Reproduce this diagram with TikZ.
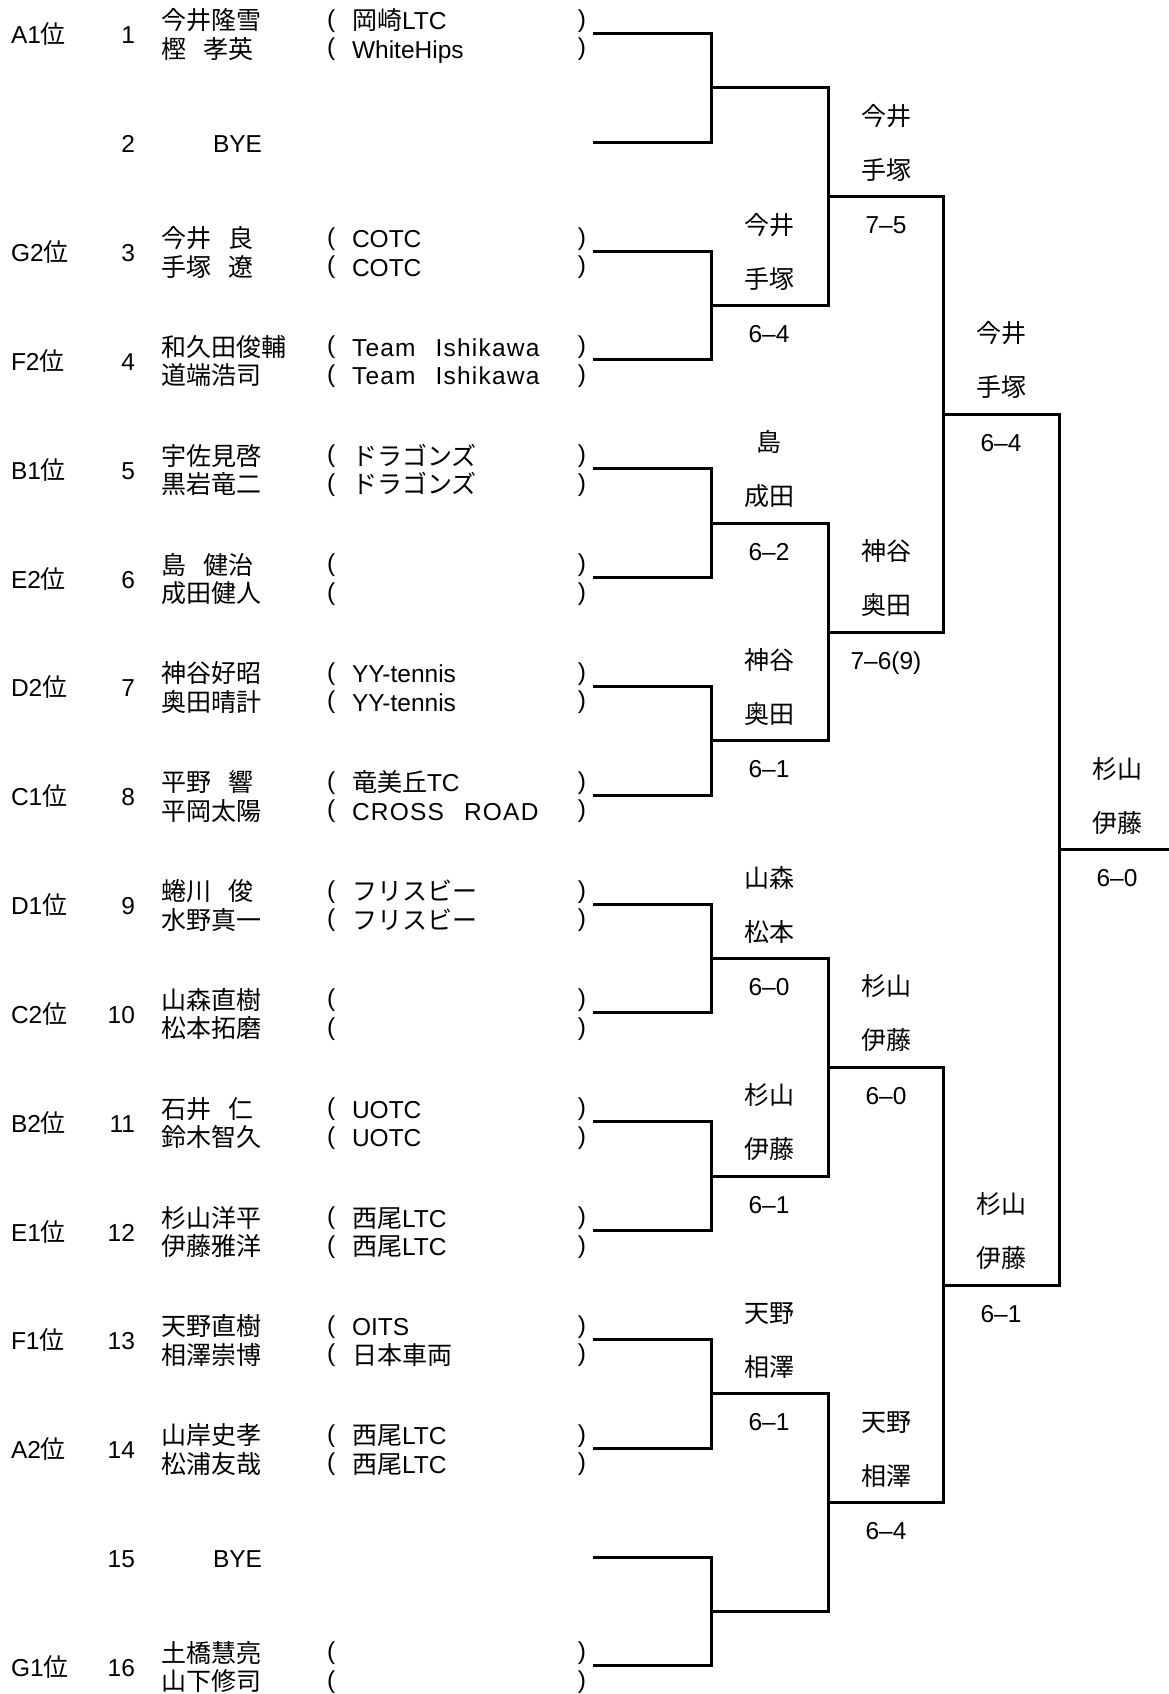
\documentclass[tikz,border=0pt]{standalone}
\usepackage{fontspec}
\setmainfont{Liberation Sans}
\newfontfamily\jp{Noto Sans CJK JP}
\newcommand\J[1]{{\jp\fontsize{25}{29}\selectfont #1}}
\newcommand\gapsp{\hspace{17pt}}
\newcommand\wide[1]{{\addfontfeature{LetterSpace=5}#1}}
\newcommand\winner[4]{%
  \node[lab] (#1w1) at ([shift={(58,-71.5)}]#1) {\J{#2}};
  \node[lab] (#1w2) at ([shift={(58,-17.5)}]#1) {\J{#3}};
  \node[lab] (#1sc) at ([shift={(58,37)}]#1) {#4};}
\begin{document}
\begin{tikzpicture}[x=1pt,y=-1pt,
  txt/.style={inner sep=0pt,outer sep=0pt,font=\fontsize{24.5}{29}\selectfont},
  lft/.style={txt,anchor=base west},
  rgt/.style={txt,anchor=base east},
  lab/.style={txt,anchor=base},
  br/.style={line width=3pt,line join=miter,line cap=rect}]
\useasboundingbox[fill=white] (0,0) rectangle (1169,1694);

% entries
\foreach \i/\sd/\na/\nb/\ca/\cb in {
1/A1/今井隆雪/樫\gapsp 孝英/\J{岡崎}LTC/WhiteHips,
3/G2/今井\gapsp 良/手塚\gapsp 遼/COTC/COTC,
4/F2/和久田俊輔/道端浩司/\wide{Team\hspace{20pt}Ishikawa}/\wide{Team\hspace{20pt}Ishikawa},
5/B1/宇佐見啓/黒岩竜二/\J{ドラゴンズ}/\J{ドラゴンズ},
6/E2/島\gapsp 健治/成田健人/{}/{},
7/D2/神谷好昭/奥田晴計/YY-tennis/YY-tennis,
8/C1/平野\gapsp 響/平岡太陽/\J{竜美丘}TC/\wide{CROSS\hspace{20pt}ROAD},
9/D1/蜷川\gapsp 俊/水野真一/\J{フリスビー}/\J{フリスビー},
10/C2/山森直樹/松本拓磨/{}/{},
11/B2/石井\gapsp 仁/鈴木智久/UOTC/UOTC,
12/E1/杉山洋平/伊藤雅洋/\J{西尾}LTC/\J{西尾}LTC,
13/F1/天野直樹/相澤崇博/OITS/\J{日本車両},
14/A2/山岸史孝/松浦友哉/\J{西尾}LTC/\J{西尾}LTC,
16/G1/土橋慧亮/山下修司/{}/{}}{
  \pgfmathsetmacro\y{33.5+(\i-1)*108.83}
  \node[lft] (seed\i) at (11,\y+10.5) {\sd\J{位}};
  \node[rgt] (num\i) at (135,\y+10.5) {\i};
  \node[lft] (na\i) at (161,\y-3.5) {\J{\na}};
  \node[lft] (nb\i) at (161,\y+25) {\J{\nb}};
  \node[lft] (pa\i) at (327,\y-6) {(};
  \node[lft] (pb\i) at (327,\y+22.5) {(};
  \node[rgt] (qa\i) at (586,\y-6) {)};
  \node[rgt] (qb\i) at (586,\y+22.5) {)};
  \node[lft] (ca\i) at (352,\y-3.5) {\ca};
  \node[lft] (cb\i) at (352,\y+25) {\cb};
  \coordinate (e\i) at (594,\y);
}
\foreach \i in {2,15}{
  \pgfmathsetmacro\y{33.5+(\i-1)*108.83}
  \node[rgt] (num\i) at (135,\y+10.5) {\i};
  \node[lft] (bye\i) at (213,\y+10.5) {BYE};
  \coordinate (e\i) at (594,\y);
}

% junctions
\foreach \j in {1,...,8}{\coordinate (a\j) at (711,{33.5+(2*\j-1.5)*108.83});}
\foreach \j in {1,...,4}{\coordinate (b\j) at (828,{33.5+(4*\j-2.5)*108.83});}
\foreach \j in {1,2}{\coordinate (c\j) at (943,{33.5+(8*\j-4.5)*108.83});}
\coordinate (d1) at (1059,{33.5+7.5*108.83});
\coordinate (fin) at (1172,{33.5+7.5*108.83});

% bracket lines
\foreach \j in {1,...,8}{
  \pgfmathtruncatemacro\p{2*\j-1}\pgfmathtruncatemacro\q{2*\j}
  \draw[br] (e\p) -| (a\j) |- (e\q);}
\foreach \j in {1,...,4}{
  \pgfmathtruncatemacro\p{2*\j-1}\pgfmathtruncatemacro\q{2*\j}
  \draw[br] (a\p) -| (b\j) |- (a\q);}
\foreach \j in {1,2}{
  \pgfmathtruncatemacro\p{2*\j-1}\pgfmathtruncatemacro\q{2*\j}
  \draw[br] (b\p) -| (c\j) |- (b\q);}
\draw[br] (c1) -| (d1) |- (c2);
\draw[br] (d1) -- (fin);

% winners and scores
\winner{a2}{今井}{手塚}{6–4}
\winner{a3}{島}{成田}{6–2}
\winner{a4}{神谷}{奥田}{6–1}
\winner{a5}{山森}{松本}{6–0}
\winner{a6}{杉山}{伊藤}{6–1}
\winner{a7}{天野}{相澤}{6–1}
\winner{b1}{今井}{手塚}{7–5}
\winner{b2}{神谷}{奥田}{7–6(9)}
\winner{b3}{杉山}{伊藤}{6–0}
\winner{b4}{天野}{相澤}{6–4}
\winner{c1}{今井}{手塚}{6–4}
\winner{c2}{杉山}{伊藤}{6–1}
\winner{d1}{杉山}{伊藤}{6–0}
\end{tikzpicture}
\end{document}
